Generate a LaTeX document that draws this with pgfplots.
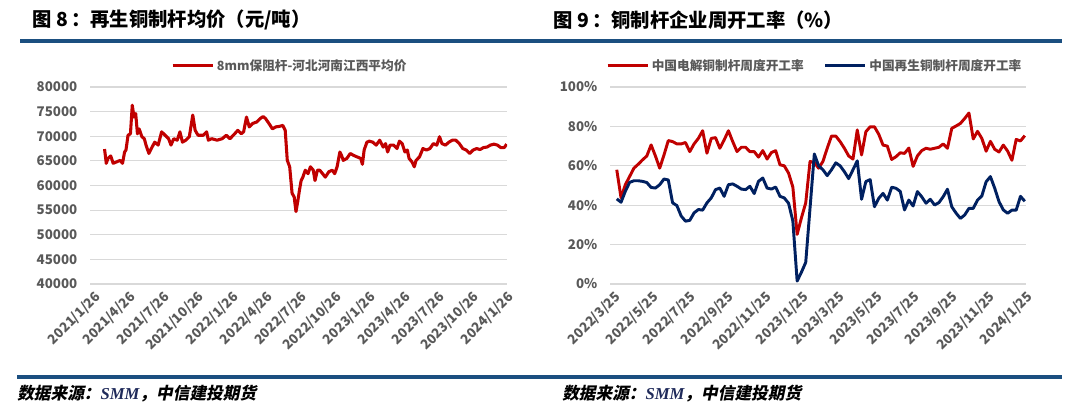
\documentclass[border=0pt]{standalone}
\usepackage{pgfplots}
\pgfplotsset{compat=1.18}
\usepackage{fontspec}
\setmainfont{Noto Sans CJK SC}
\newfontfamily\footcjk{Noto Sans CJK SC}[FakeSlant=0.2]
\newfontfamily\tnr{Liberation Serif}
\definecolor{rulec}{HTML}{1B4F80}
\definecolor{redl}{HTML}{C00000}
\definecolor{navy}{HTML}{002060}
\definecolor{gridc}{HTML}{D9D9D9}
\definecolor{tickc}{HTML}{595959}
\definecolor{smmc}{HTML}{1F2A5A}

\pgfplotstableread{
x y
1.27 67400
1.42 64500
1.57 65500
1.81 66000
2.02 64500
2.33 64800
2.63 65100
2.84 64500
3.02 66800
3.14 67200
3.32 70200
3.53 70500
3.69 76300
3.84 73900
3.99 74600
4.14 70500
4.29 71500
4.53 69900
4.74 69500
4.89 68200
5.14 66500
5.35 67500
5.65 68800
5.95 68200
6.25 70900
6.56 70200
6.86 69500
7.07 68200
7.31 69500
7.61 69200
7.85 70900
8.07 68800
8.37 69200
8.67 69900
8.97 74300
9.18 71200
9.43 70200
9.88 70200
10.18 70900
10.33 69200
10.63 69500
11.09 69200
11.54 69500
11.90 70200
12.21 69500
12.51 70200
12.90 71200
13.20 70500
13.41 70900
13.66 73900
13.90 71900
14.20 72600
14.56 72900
14.86 73600
15.11 74000
15.32 73600
15.62 72600
15.92 71500
16.22 71900
16.53 72000
16.83 72200
17.04 71200
17.22 65100
17.43 63800
17.64 58400
17.82 57700
17.98 54700
18.13 56700
18.28 59000
18.43 61000
18.58 61700
18.79 63100
19.03 62400
19.24 63800
19.49 63100
19.64 61000
19.85 63100
20.06 63100
20.30 62400
20.54 61700
20.85 62800
21.15 63100
21.36 62400
21.57 63800
21.81 66800
21.96 66100
22.11 65100
22.42 65500
22.72 66500
23.02 66100
23.32 65800
23.63 65500
23.78 64300
23.93 67200
24.17 68800
24.38 69000
24.68 68800
24.98 68200
25.29 69200
25.59 67800
25.80 68500
25.98 66800
26.19 68200
26.50 68200
26.80 67500
27.01 69000
27.25 68500
27.49 66800
27.70 67200
27.85 65500
28.10 64800
28.31 63800
28.46 65100
28.76 65800
29.06 67500
29.37 67200
29.67 67500
29.97 68500
30.27 68200
30.51 69900
30.72 68500
31.03 68200
31.33 68800
31.63 69200
31.93 69200
32.24 68500
32.54 67500
32.84 67200
33.14 66500
33.44 67200
33.75 67500
34.05 67300
34.35 67700
34.65 67800
34.95 68200
35.26 68400
35.56 68200
35.86 67700
36.16 67700
36.37 68400
}\pricetable

\pgfplotstableread{
x red blue
11 58.0 43.2
18 43.7 41.5
25 50.4 47.1
32 54.6 51.6
39 58.8 52.4
46 60.8 52.4
53 63.0 52.1
60 65.0 51.5
67 70.6 49.0
74 65.0 48.7
81 58.8 50.4
88 65.5 53.3
95 72.8 52.8
102 72.3 41.2
109 71.1 39.8
116 71.1 34.5
123 71.8 31.9
130 67.2 32.3
137 71.1 36.1
144 73.9 37.8
151 77.8 37.5
158 66.4 41.2
165 73.9 43.7
172 74.3 47.9
179 68.9 48.7
186 73.1 44.5
193 77.8 50.4
200 72.3 50.8
207 67.2 49.6
214 69.4 48.2
221 69.4 47.9
228 67.2 49.6
235 67.2 45.9
242 64.4 52.1
249 67.7 53.8
256 63.4 48.7
263 66.7 48.2
270 67.7 49.2
277 60.5 44.5
284 60.0 43.7
291 56.3 41.0
298 49.2 32.0
305 25.2 1.5
312 33.6 6.0
319 41.2 11.0
326 62.2 38.5
333 61.7 66.0
340 58.8 60.0
347 62.2 58.0
354 68.9 55.0
361 75.1 58.0
368 75.1 61.5
375 72.3 60.0
382 68.9 57.0
389 65.0 53.5
396 63.4 58.0
403 78.2 62.5
410 65.5 43.0
417 77.3 52.0
424 79.8 53.0
431 79.8 39.2
438 76.0 43.5
445 70.5 46.0
452 70.0 42.6
459 63.2 49.1
466 64.6 48.6
473 66.6 47.0
480 66.3 37.6
487 69.0 42.6
494 59.7 39.6
501 65.0 46.9
508 67.7 44.3
515 68.9 41.0
522 68.4 43.0
529 68.9 40.1
536 69.4 41.3
543 71.1 44.3
550 68.9 48.1
557 79.0 39.2
564 80.2 36.0
571 81.5 33.3
578 84.0 35.0
585 86.8 38.4
592 73.6 38.4
599 77.5 42.6
606 73.9 44.7
613 67.4 51.9
620 72.4 54.5
627 68.4 48.6
634 67.0 41.8
641 70.5 37.6
648 67.5 35.9
655 62.8 37.5
662 73.4 37.5
669 72.6 44.5
676 75.3 42.0
}\ratetable

\pgfplotsset{
  common/.style={
    scale only axis,
    anchor=south west,
    axis line style={draw=none},
    tick style={draw=none},
    ymajorgrids,
    grid style={gridc, line width=0.8pt},
    scaled y ticks=false,
    /pgf/number format/assume math mode=true,
    /pgf/number format/1000 sep={},
    ticklabel style={font=\bfseries\fontsize{10}{12}\selectfont, text=tickc},
    xticklabel style={rotate=45, anchor=north east, inner sep=1pt, yshift=-4pt},
    yticklabel style={xshift=-6pt},
    legend style={draw=none, fill=none, font=\bfseries\fontsize{9.5}{11}\selectfont, text=tickc, anchor=center},
    legend image code/.code={\draw[#1] (0pt,0pt) -- (30pt,0pt);},
  }
}

\begin{document}
\begin{tikzpicture}[x=0.75pt,y=0.75pt]
\useasboundingbox (0,0) rectangle (1080,416);
% rules
\draw[rulec, line width=2.4pt] (20,375) -- (1062,375);
\draw[rulec, line width=2.4pt] (17,39) -- (1062,39);
% titles
\node[anchor=west, inner sep=0pt, font=\bfseries\fontsize{14.5}{16}\selectfont] at (32,396) {图 8\,：再生铜制杆均价（元/吨）};
\node[anchor=west, inner sep=0pt, font=\bfseries\fontsize{14.5}{16}\selectfont] at (553,396) {图 9\,：铜制杆企业周开工率（\%）};
% footers
\node[anchor=west, inner sep=0pt, font=\footcjk\bfseries\fontsize{12.5}{14}\selectfont] at (17,22) {数据来源：{\tnr\itshape\bfseries\color{smmc} SMM}，中信建投期货};
\node[anchor=west, inner sep=0pt, font=\footcjk\bfseries\fontsize{12.5}{14}\selectfont] at (562,22) {数据来源：{\tnr\itshape\bfseries\color{smmc} SMM}，中信建投期货};

\begin{axis}[common,
  at={(67.5pt,99pt)}, width=312.75pt, height=147.75pt,
  xmin=0, xmax=36.4, ymin=40000, ymax=80000,
  ytick={40000,45000,...,80000},
  xtick={0,3,...,36},
  xticklabels={2021/1/26,2021/4/26,2021/7/26,2021/10/26,2022/1/26,2022/4/26,2022/7/26,2022/10/26,2023/1/26,2023/4/26,2023/7/26,2023/10/26,2024/1/26},
  legend style={at={(0.48,1.107)}},
]
\addplot[redl, line width=2.3pt, line join=round] table[x=x,y=y] {\pricetable};
\addlegendentry{8mm保阻杆-河北河南江西平均价}
\end{axis}

\begin{axis}[common,
  at={(457.5pt,99pt)}, width=312pt, height=147.75pt,
  xmin=0, xmax=678, ymin=0, ymax=100,
  ytick={0,20,...,100},
  yticklabel={\pgfmathprintnumber{\tick}\%},
  xtick={0,61,122,184,245,306,365,426,487,549,610,671},
  xticklabels={2022/3/25,2022/5/25,2022/7/25,2022/9/25,2022/11/25,2023/1/25,2023/3/25,2023/5/25,2023/7/25,2023/9/25,2023/11/25,2024/1/25},
  legend columns=2,
  legend style={at={(0.493,1.107)}, /tikz/every even column/.append style={column sep=13pt}},
]
\addplot[redl, line width=2.2pt, line join=round] table[x=x,y=red] {\ratetable};
\addlegendentry{中国电解铜制杆周度开工率}
\addplot[navy, line width=2.2pt, line join=round] table[x=x,y=blue] {\ratetable};
\addlegendentry{中国再生铜制杆周度开工率}
\end{axis}
\end{tikzpicture}
\end{document}
